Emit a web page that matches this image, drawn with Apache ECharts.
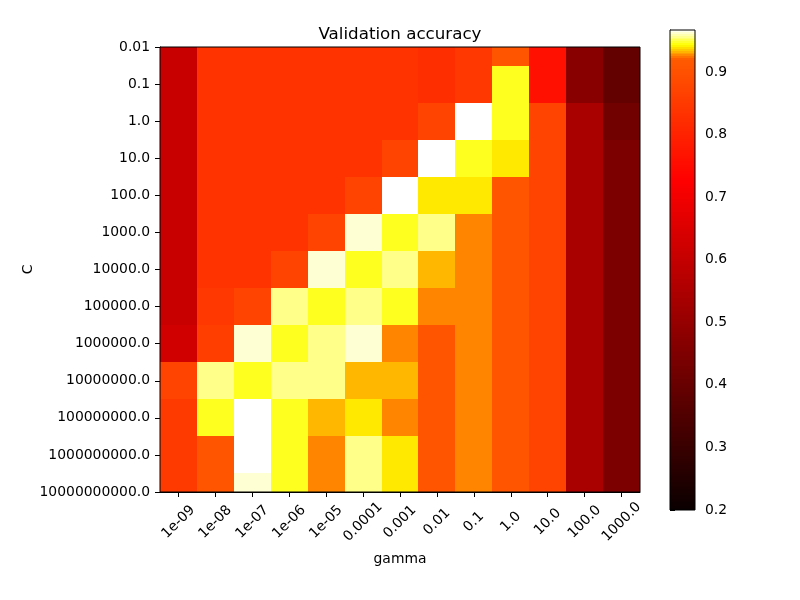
<!DOCTYPE html>
<html>
<head>
<meta charset="utf-8">
<script src="https://cdn.jsdelivr.net/npm/echarts@6/dist/echarts.min.js"></script>
<style>html,body{margin:0;padding:0;background:#fff}#c{width:800px;height:600px}</style>
</head>
<body>
<div id="c"></div>
<script>
// ---- data ----
const gammaLabels = ['1e-09','1e-08','1e-07','1e-06','1e-05','0.0001','0.001','0.01','0.1','1.0','10.0','100.0','1000.0'];
const cLabels = ['0.01','0.1','1.0','10.0','100.0','1000.0','10000.0','100000.0','1000000.0','10000000.0','100000000.0','1000000000.0','10000000000.0'];
// rows: C (top to bottom), columns: gamma (left to right)
const scores = [
  [0.61, 0.835,0.835,0.835,0.835,0.835,0.835, 0.825,0.845,0.908,0.76, 0.47,0.39],
  [0.61, 0.835,0.835,0.835,0.835,0.835,0.835, 0.825,0.845,0.946,0.76, 0.47,0.39],
  [0.61, 0.835,0.835,0.835,0.835,0.835,0.835, 0.87, 0.967,0.946,0.87, 0.54,0.42],
  [0.61, 0.835,0.835,0.835,0.835,0.835,0.87,  0.967,0.946,0.94, 0.87, 0.54,0.447],
  [0.61, 0.835,0.835,0.835,0.835,0.87, 0.967, 0.94, 0.94, 0.908,0.87, 0.54,0.447],
  [0.61, 0.835,0.835,0.835,0.87, 0.963,0.946, 0.956,0.926,0.908,0.87, 0.54,0.447],
  [0.61, 0.835,0.835,0.87, 0.963,0.946,0.956, 0.933,0.926,0.908,0.87, 0.54,0.447],
  [0.61, 0.845,0.87, 0.956,0.946,0.956,0.946, 0.926,0.926,0.908,0.87, 0.54,0.447],
  [0.625,0.86, 0.963,0.946,0.956,0.963,0.926, 0.908,0.926,0.908,0.87, 0.54,0.447],
  [0.87, 0.956,0.946,0.956,0.956,0.933,0.933, 0.908,0.926,0.908,0.87, 0.54,0.447],
  [0.85, 0.946,0.967,0.946,0.933,0.94, 0.926, 0.908,0.926,0.908,0.87, 0.54,0.447],
  [0.85, 0.908,0.967,0.946,0.926,0.956,0.94,  0.908,0.926,0.908,0.87, 0.54,0.447],
  [0.85, 0.908,0.963,0.946,0.926,0.956,0.94,  0.908,0.926,0.908,0.87, 0.54,0.447]
];
const colorbarTicks = [0.2,0.3,0.4,0.5,0.6,0.7,0.8,0.9];
const vmin = 0.2, midpoint = 0.92;

// ---- colour mapping (matplotlib "hot" with midpoint norm) ----
let vmax = -Infinity;
scores.forEach(r => r.forEach(v => { if (v > vmax) vmax = v; }));
function norm(v) {
  if (v <= vmin) return 0;
  if (v <= midpoint) return 0.5 * (v - vmin) / (midpoint - vmin);
  if (v >= vmax) return 1;
  return 0.5 + 0.5 * (v - midpoint) / (vmax - midpoint);
}
function hot(n) {
  n = Math.max(0, Math.min(1, n));
  const a = 0.365079, b = 0.746032;
  const r = n < a ? 0.0416 + (1 - 0.0416) * n / a : 1;
  const g = n < a ? 0 : (n < b ? (n - a) / (b - a) : 1);
  const bl = n < b ? 0 : (n - b) / (1 - b);
  const h = x => Math.round(x * 255);
  return 'rgb(' + h(r) + ',' + h(g) + ',' + h(bl) + ')';
}
function colorOf(v) { return hot(norm(v)); }

const cells = [];
scores.forEach((row, i) => row.forEach((v, j) => cells.push([j, i, v])));

const FONT = 'DejaVu Sans';
const FS = 13.9;
const NS = 256;

const chart = echarts.init(document.getElementById('c'), null, { renderer: 'canvas' });
chart.setOption({
  animation: false,
  backgroundColor: '#fff',
  title: {
    text: 'Validation accuracy',
    left: 'center',
    top: 26,
    padding: 0,
    textStyle: { fontFamily: FONT, fontSize: 16.7, fontWeight: 'normal', color: '#000' }
  },
  grid: [
    { left: 160, top: 47, width: 480, height: 445, show: true, z: 10, borderColor: '#000', borderWidth: 1, backgroundColor: 'transparent', containLabel: false },
    { left: 670, top: 30, width: 25, height: 480, show: true, z: 10, borderColor: '#000', borderWidth: 1, backgroundColor: 'transparent', containLabel: false }
  ],
  xAxis: [
    {
      gridIndex: 0, type: 'category', data: gammaLabels, boundaryGap: true,
      name: 'gamma', nameLocation: 'middle', nameGap: 60, nameMoveOverlap: false,
      nameTextStyle: { fontFamily: FONT, fontSize: FS, color: '#000' },
      axisLine: { show: true, lineStyle: { color: '#000', width: 1 } },
      axisTick: { show: true, alignWithLabel: true, interval: 0, length: 5, lineStyle: { color: '#000', width: 1 } },
      axisLabel: { interval: 0, rotate: 45, align: 'center', verticalAlign: 'middle', margin: 30, fontFamily: FONT, fontSize: FS, color: '#000' },
      splitLine: { show: false }
    },
    { gridIndex: 1, type: 'value', min: 0, max: 1, show: false }
  ],
  yAxis: [
    {
      gridIndex: 0, type: 'category', data: cLabels, boundaryGap: false, inverse: true,
      name: 'C', nameLocation: 'middle', nameGap: 125, nameMoveOverlap: false,
      nameTextStyle: { fontFamily: FONT, fontSize: FS, color: '#000' },
      axisLine: { show: true, lineStyle: { color: '#000', width: 1 } },
      axisTick: { show: true, interval: 0, length: 5, lineStyle: { color: '#000', width: 1 } },
      axisLabel: { interval: 0, margin: 10, fontFamily: FONT, fontSize: FS, color: '#000' },
      splitLine: { show: false }
    },
    {
      gridIndex: 1, type: 'value', min: vmin, max: vmax, position: 'right',
      axisLine: { show: true, lineStyle: { color: '#000', width: 1 } },
      axisTick: { show: true, length: 5, customValues: colorbarTicks, lineStyle: { color: '#000', width: 1 } },
      axisLabel: { customValues: colorbarTicks, margin: 10, fontFamily: FONT, fontSize: FS, color: '#000', formatter: v => Number(v).toFixed(1) },
      splitLine: { show: false }
    }
  ],
  series: [
    {
      type: 'custom', xAxisIndex: 0, yAxisIndex: 0, clip: true,
      data: cells,
      renderItem: function (params, api) {
        const p = api.coord([api.value(0), api.value(1)]);
        const s = api.size([1, 1]);
        const x0 = Math.round(p[0] - s[0] / 2), x1 = Math.round(p[0] + s[0] / 2);
        const y0 = Math.round(p[1] - s[1] / 2), y1 = Math.round(p[1] + s[1] / 2);
        return {
          type: 'rect',
          shape: { x: x0, y: y0, width: x1 - x0, height: y1 - y0 },
          style: { fill: colorOf(api.value(2)) }
        };
      }
    },
    {
      type: 'custom', xAxisIndex: 1, yAxisIndex: 1, clip: true,
      data: [[0.5, (vmin + vmax) / 2]],
      renderItem: function (params, api) {
        const children = [];
        for (let k = 0; k < NS; k++) {
          const va = vmin + (vmax - vmin) * k / NS;
          const vb = vmin + (vmax - vmin) * (k + 1) / NS;
          const pa = api.coord([0, va]);
          const pb = api.coord([1, vb]);
          const x0 = Math.round(pa[0]), x1 = Math.round(pb[0]);
          const yTop = Math.round(pb[1]), yBot = Math.round(pa[1]);
          if (yBot <= yTop) continue;
          children.push({
            type: 'rect',
            shape: { x: x0, y: yTop, width: x1 - x0, height: yBot - yTop },
            style: { fill: colorOf((va + vb) / 2) }
          });
        }
        return { type: 'group', children: children };
      }
    }
  ]
});
</script>
</body>
</html>
